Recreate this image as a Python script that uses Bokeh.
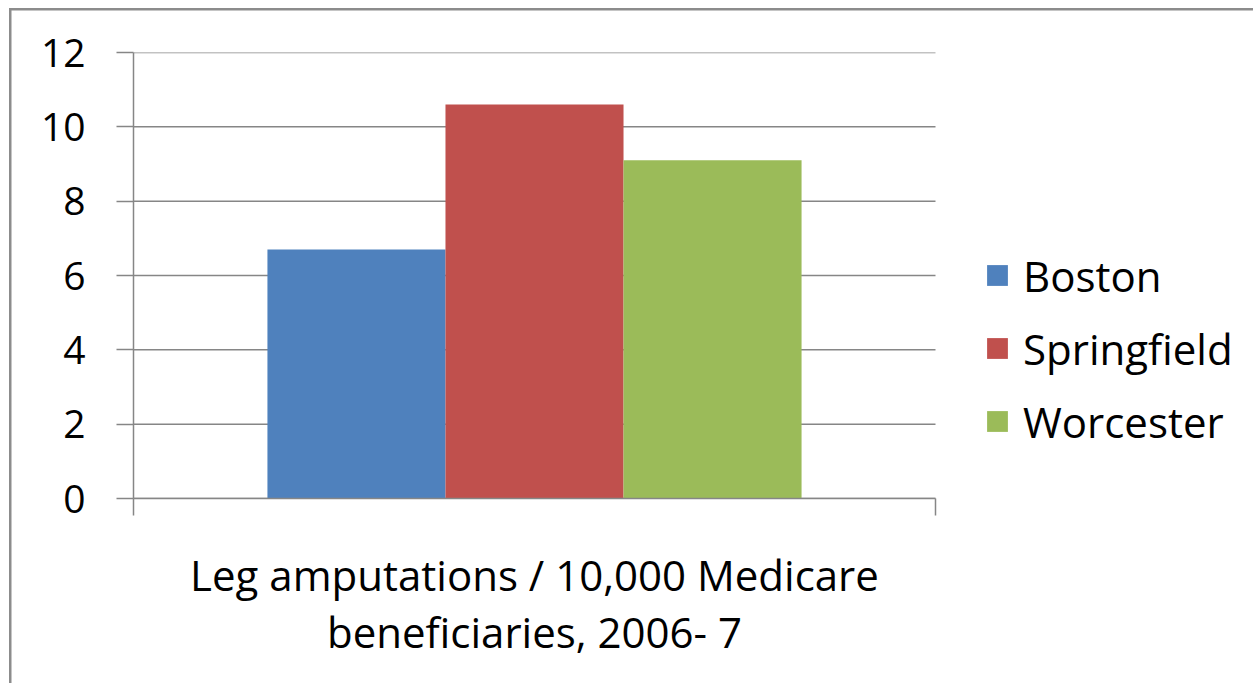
from bokeh.plotting import figure
from bokeh.models import (ColumnDataSource, Range1d, LinearAxis, FixedTicker,
                          Legend, LegendItem)
from bokeh.embed import file_html
from bokeh.resources import INLINE

# --- data -------------------------------------------------------------
category = "Leg amputations / 10,000 Medicare\nbeneficiaries, 2006- 7"
cities = ["Boston", "Springfield", "Worcester"]
rates = [6.7, 10.6, 9.1]
colors = ["#4F81BD", "#C0504D", "#9BBB59"]
y_ticks = [0, 2, 4, 6, 8, 10, 12]

FONT = "Open Sans"
GRID = "#868686"
FRAME = "#8c8c8c"

# the single category occupies the slot [0, 1]; its three bars sit side by side
slot = (0, 1)
slot_center = 0.5
bar_w = 0.222

# the frame runs to the right edge so the legend can sit beside the slot;
# the slot itself takes 802 of the frame's 1120 px
p = figure(width=1253, height=683, output_backend="svg", toolbar_location=None,
           x_range=Range1d(0, 1120 / 802), y_range=Range1d(0, 12), x_axis_location=None,
           min_border_left=133, min_border_right=0,
           min_border_top=52, min_border_bottom=185)
p.outline_line_color = None
p.background_fill_color = "white"
p.border_fill_alpha = 0
# thin frame line along the top and left edges of the page, behind the canvas
p.styles = {
    "background": (f"linear-gradient({FRAME},{FRAME}) 9px 8px / 2.5px 100% no-repeat, "
                   f"linear-gradient({FRAME},{FRAME}) 9px 8px / 100% 2.5px no-repeat, white"),
}

# horizontal gridlines spanning only the category slot, behind the bars
p.segment(x0=[slot[0]] * len(y_ticks), x1=[slot[1]] * len(y_ticks),
          y0=y_ticks, y1=y_ticks, line_color=GRID, line_width=1.5, level="underlay")

items = []
n = len(cities)
for i, (city, rate, col) in enumerate(zip(cities, rates, colors)):
    xpos = slot_center + (i - (n - 1) / 2) * bar_w
    src = ColumnDataSource(dict(x=[xpos], top=[rate]))
    r = p.vbar(x="x", top="top", width=bar_w, source=src,
               fill_color=col, line_color=None)
    items.append(LegendItem(label=city, renderers=[r]))

# y axis
p.yaxis.ticker = FixedTicker(ticks=y_ticks, minor_ticks=[])
p.yaxis.axis_line_color = GRID
p.yaxis.axis_line_width = 1.5
p.yaxis.major_tick_line_color = GRID
p.yaxis.major_tick_line_width = 1.5
p.yaxis.major_tick_out = 17
p.yaxis.major_tick_in = 0
p.yaxis.minor_tick_line_color = None
p.yaxis.major_label_text_font = FONT
p.yaxis.major_label_text_font_size = "39px"
p.yaxis.major_label_text_color = "black"
p.yaxis.major_label_standoff = 31
p.grid.visible = False

# baseline with tick marks at both ends of the category slot
edge_axis = LinearAxis(ticker=FixedTicker(ticks=list(slot), minor_ticks=[]),
                       bounds=slot,
                       major_label_overrides={0: "", 1: ""},
                       major_label_text_font_size="1px",
                       axis_line_color=GRID, axis_line_width=1.5,
                       major_tick_line_color=GRID, major_tick_line_width=1.5,
                       major_tick_out=17, major_tick_in=0,
                       minor_tick_line_color=None, major_label_standoff=0)
p.add_layout(edge_axis, "below")

# category label under the slot
cat_axis = LinearAxis(ticker=FixedTicker(ticks=[slot_center], minor_ticks=[]),
                      major_label_overrides={slot_center: category},
                      axis_line_color=None, major_tick_line_color=None,
                      minor_tick_line_color=None,
                      major_label_text_font=FONT,
                      major_label_text_font_size="42px",
                      major_label_text_color="black",
                      major_label_text_line_height=1.0,
                      major_label_standoff=24)
p.add_layout(cat_axis, "below")

# legend beside the slot
legend = Legend(items=items, location=(851, 47), orientation="vertical",
                label_text_font=FONT, label_text_font_size="42px",
                label_text_color="black", glyph_width=26, glyph_height=26,
                label_standoff=13, label_height=60, spacing=13,
                padding=0, margin=0, border_line_color=None,
                background_fill_alpha=0)
p.add_layout(legend, "center")

open("out.html", "w").write(file_html(p, INLINE))
